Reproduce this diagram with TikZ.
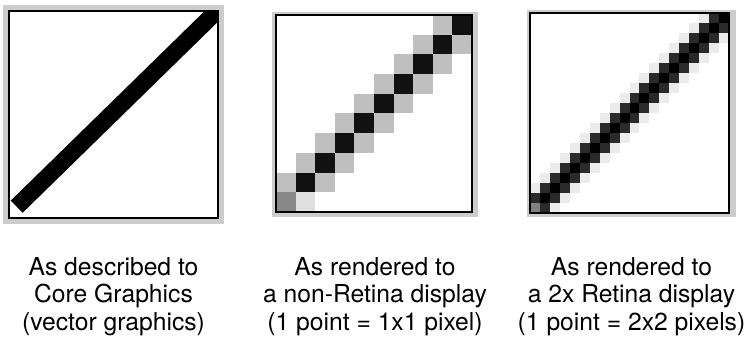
\documentclass[tikz,border=0pt]{standalone}
\usepackage{fontspec}
\setmainfont{TeX Gyre Heros}
\usepackage{tikz}
\definecolor{framegray}{RGB}{204,204,204}
\definecolor{pxgray}{RGB}{191,191,191}
\definecolor{pxblack}{RGB}{17,17,17}
\definecolor{pxmid}{RGB}{136,136,136}
\definecolor{pxlight}{RGB}{224,224,224}
\definecolor{retdark}{RGB}{42,42,42}
\definecolor{retlight}{RGB}{235,235,235}
\definecolor{retmid}{RGB}{128,128,128}
\newcommand{\pixel}[3]{
\fill[#3] (#1,#2) rectangle ++(1,1);
}

\begin{document}
\begin{tikzpicture}[x=0.75pt, y=-0.75pt,
    caption/.style={align=center, inner sep=0pt, anchor=north,
        font=\fontsize{18.5}{20.6}\selectfont}]
    \useasboundingbox (0,0) rectangle (746,341);
    % vector graphics
    \fill[framegray] (3,5) rectangle (224,224);
    \fill[white] (9,11) rectangle (218,218);
    \begin{scope}
        \clip (9,11) rectangle (218,218);
        \draw[line width=12.75pt] (16.7,206.7) -- (224,4);
    \end{scope}
    \draw[line width=1.1pt] (9,11) rectangle (218,218);
    % 1x1 pixels
    \fill[framegray] (272,12) rectangle (478,217);
    \fill[white] (276,15) rectangle (472,212);
    \begin{scope}[shift={(276,212)}, x=14.7pt, y=14.775pt]
        \clip (0,0) rectangle (10,10);
        \foreach \j in {0,...,9}
        {
            \pixel{\j-1}{\j}{pxgray}
            \pixel{\j+1}{\j}{pxgray}
            \pixel{\j}{\j}{pxblack}
        }
        \pixel{0}{0}{pxmid} \pixel{1}{0}{pxlight}
    \end{scope}
    \draw[line width=1.1pt] (276,15) rectangle (472,212);
    % 2x2 pixels
    \fill[framegray] (527,10) rectangle (736,217);
    \fill[white] (530,13) rectangle (729,213);
    \begin{scope}[shift={(530,213)}, x=7.4625pt, y=7.5pt]
        \clip (0,0) rectangle (20,20);
        \foreach \j in {0,...,19}
        {
            \pixel{\j-2}{\j}{retlight}
            \pixel{\j+2}{\j}{retlight}
            \pixel{\j-1}{\j}{retdark}
            \pixel{\j+1}{\j}{retdark}
            \pixel{\j}{\j}{black}
        }
        \pixel{0}{0}{retmid}
    \end{scope}
    \draw[line width=1.1pt] (530,13) rectangle (729,213);
    % captions
    \node[caption] (vectortext) at (113.5,257) {As described to\\Core Graphics\\(vector graphics)};
    \node[caption] (lowrestext) at (375,257) {As rendered to\\a non-Retina display\\(1 point = 1x1 pixel)};
    \node[caption] (retinatext) at (631.5,257) {As rendered to\\a 2x Retina display\\(1 point = 2x2 pixels)};
\end{tikzpicture}
\end{document}
